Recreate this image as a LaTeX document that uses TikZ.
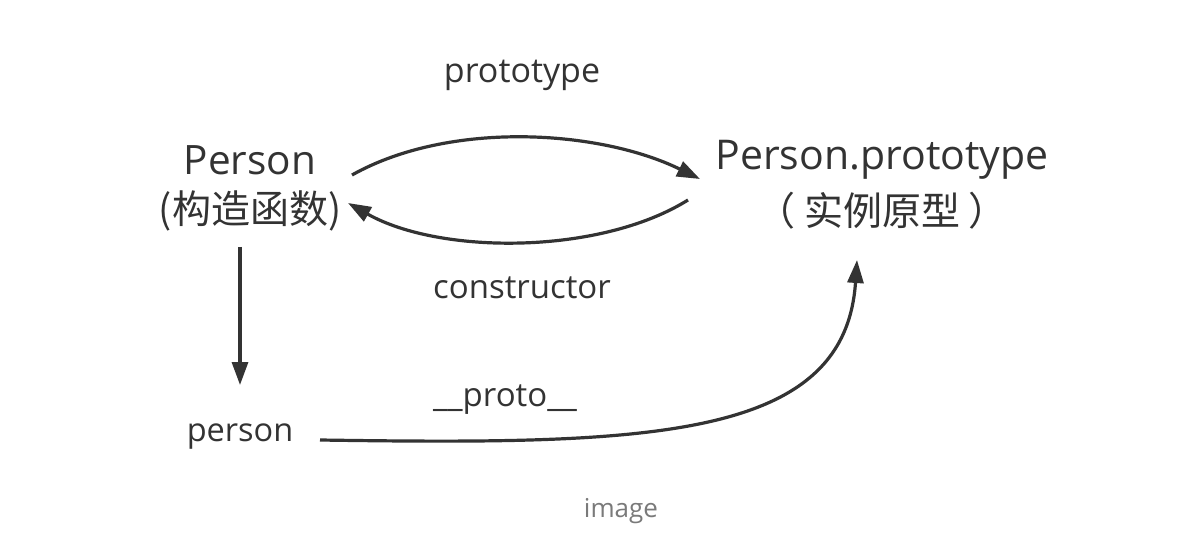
\documentclass[tikz,border=0pt]{standalone}
\usepackage{fontspec}
\setmainfont{Open Sans}
\newfontfamily\cjk{Noto Sans CJK SC}
\usetikzlibrary{arrows.meta}
\definecolor{ink}{HTML}{333333}
\definecolor{capgray}{HTML}{7A7A7A}
\begin{document}
\begin{tikzpicture}[x=1pt,y=1pt,
  mainlbl/.style={text=ink,font=\fontsize{41}{48}\selectfont,align=center,inner sep=0pt},
  edgelbl/.style={text=ink,font=\fontsize{33}{38}\selectfont,inner sep=0pt},
  conn/.style={draw=ink,line width=3.2pt,-{Triangle[length=23pt,width=16pt]}}]
\useasboundingbox (0,0) rectangle (1198,-534);
\fill[white] (0,0) rectangle (1198,-534);
\node[mainlbl,font=\fontsize{40.5}{48}\selectfont] (P1) at (250,-160) {Person};
\node[mainlbl,font=\fontsize{39}{48}\selectfont] (P2) at (250,-211) {\cjk (构造函数)};
\node[mainlbl] (Q1) at (882,-160) {Person.prototype};
\node[mainlbl,font=\fontsize{39}{48}\selectfont] (Q2) at (882,-211) {\cjk （ 实例原型 ）};
\node[edgelbl,font=\fontsize{32.5}{38}\selectfont] (inst) at (240,-437) {person};
\node[edgelbl,font=\fontsize{34}{38}\selectfont] (lp) at (522,-75) {prototype};
\node[edgelbl] (lc) at (522,-288) {constructor};
\node[edgelbl] (lpp) at (505,-400) {\_\_proto\_\_};
\node[text=capgray,font=\fontsize{26}{30}\selectfont,inner sep=0pt] (cap) at (621,-511) {image};
\coordinate (a1) at (352,-175);
\coordinate (a2) at (700,-179);
\coordinate (b1) at (688,-200);
\coordinate (b2) at (348,-203);
\coordinate (c1) at (240,-247);
\coordinate (c2) at (240,-385);
\coordinate (d1) at (320,-440);
\coordinate (d2) at (857,-260);
\draw[conn] (a1) .. controls (450,-120) and (600,-130) .. (a2);
\draw[conn] (b1) .. controls (600,-255) and (440,-255) .. (b2);
\draw[conn] (c1) -- (c2);
\draw[conn] (d1) .. controls (650,-445) and (845,-440) .. (d2);
\end{tikzpicture}
\end{document}
